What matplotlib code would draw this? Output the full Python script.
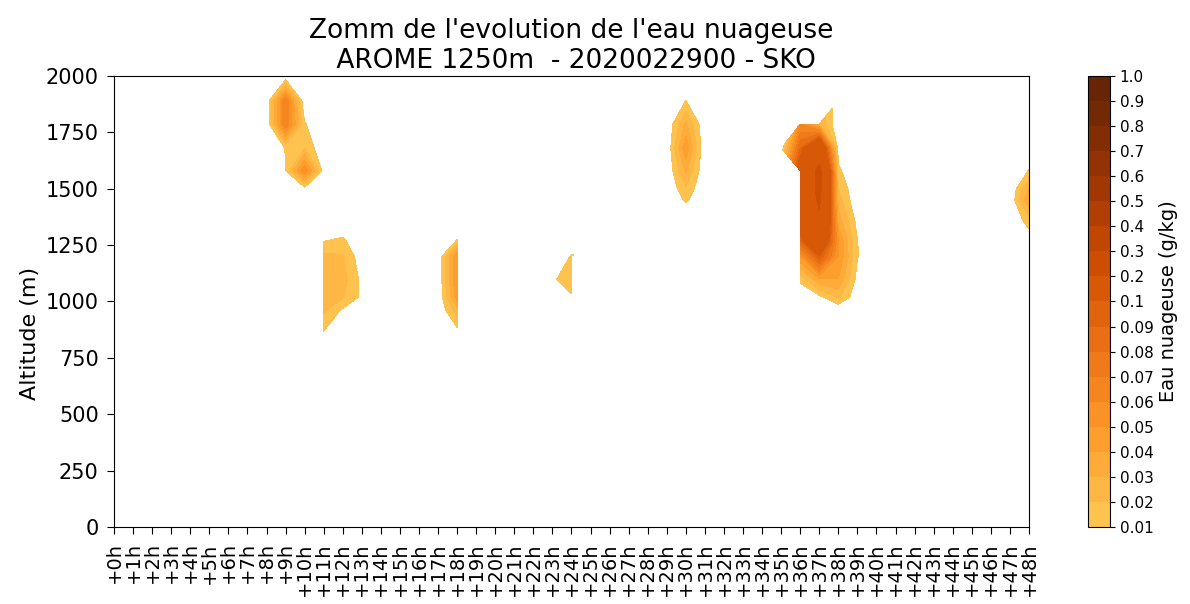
import numpy as np
import matplotlib
matplotlib.use("Agg")
import matplotlib.pyplot as plt

N = np.nan

# Forecast hours and model altitudes (m)
hours = list(range(49))
altitudes = [0, 300, 600, 860, 960, 1020, 1100, 1200, 1270, 1360, 1450,
             1500, 1580, 1680, 1787, 1890, 1990, 2100]

# Cloud water (g/kg) for hours with clouds (others are 0); NaN = missing
qc_09h = [0, 0, 0, 0, 0, 0, 0, 0, 0, 0, 0, 0, 0.0095, 0.0105, 0.07, 0.07, 0.006, 0]
qc_10h = [0, 0, 0, N, N, N, N, N, N, 0, 0, 0.006, 0.06, 0.02, 0.011, 0, 0, 0]
qc_11h = [0, 0, 0, 0.009, 0.022, 0.027, 0.029, 0.023, 0.0095, 0, 0, 0, 0.005, 0, 0, 0, 0, 0]
qc_12h = [0, 0, 0, 0, 0.008, 0.021, 0.024, 0.021, 0.012, 0, 0, 0, 0, 0, 0, 0, 0, 0]
qc_13h = [0, 0, 0, 0, 0, 0.008, 0.007, 0.003, 0, 0, 0, 0, 0, 0, 0, 0, 0, 0]
qc_18h = [0, 0, 0, 0.005, 0.025, 0.045, 0.05, 0.05, 0.0105, 0, 0, 0, 0, 0, 0, 0, 0, 0]
qc_19h = [0, 0, 0, N, N, N, N, N, N, 0, 0, 0, 0, 0, 0, 0, 0, 0]
qc_23h = [0, 0, 0, 0, 0, 0, 0.007, 0, 0, 0, 0, 0, 0, 0, 0, 0, 0, 0]
qc_24h = [0, 0, 0, 0, 0, 0.008, 0.02, 0.011, 0, 0, 0, 0, 0, 0, 0, 0, 0, 0]
qc_25h = [0, 0, 0, 0, 0, N, N, N, 0, 0, 0, 0, 0, 0, 0, 0, 0, 0]
qc_30h = [0, 0, 0, 0, 0, 0, 0, 0, 0, 0, 0.0117, 0.018, 0.032, 0.048, 0.032, 0.0102, 0, 0]
qc_35h = [0, 0, 0, 0, 0, N, N, N, N, N, N, N, N, 0, N, N, 0, 0]
qc_36h = [0, 0, 0, 0, 0, 0, 0.013, 0.05, 0.09, 0.12, 0.13, 0.13, 0.12, 0.09, 0.06, N, 0, 0]
qc_37h = [0, 0, 0, 0, 0, 0.007, 0.04, 0.1, 0.15, 0.19, 0.21, 0.22, 0.22, 0.15, 0.03, N, 0, 0]
qc_38h = [0, 0, 0, 0, 0, 0.022, 0.04, 0.05, 0.05, 0.035, 0.025, 0.02, 0.012, 0.005, 0, 0, 0, 0]
qc_39h = [0, 0, 0, 0, 0, 0.002, 0.006, 0.0105, 0.0102, 0.006, 0, 0, 0, 0, 0, 0, 0, 0]
qc_48h = [0, 0, 0, 0, 0, 0, 0, 0, 0.003, 0.015, 0.04, 0.03, 0.0105, 0, 0, 0, 0, 0]

columns = {9: qc_09h, 10: qc_10h, 11: qc_11h, 12: qc_12h, 13: qc_13h,
           18: qc_18h, 19: qc_19h, 23: qc_23h, 24: qc_24h, 25: qc_25h,
           30: qc_30h, 35: qc_35h, 36: qc_36h, 37: qc_37h, 38: qc_38h,
           39: qc_39h, 48: qc_48h}

levels = [0.01, 0.02, 0.03, 0.04, 0.05, 0.06, 0.07, 0.08, 0.09, 0.1,
          0.2, 0.3, 0.4, 0.5, 0.6, 0.7, 0.8, 0.9, 1.0]
level_labels = ["0.01", "0.02", "0.03", "0.04", "0.05", "0.06", "0.07", "0.08",
                "0.09", "0.1", "0.2", "0.3", "0.4", "0.5", "0.6", "0.7", "0.8",
                "0.9", "1.0"]
hour_labels = ["+%dh" % h for h in hours]
alt_ticks = [0, 250, 500, 750, 1000, 1250, 1500, 1750, 2000]

qc = np.zeros((len(altitudes), len(hours)))
for h, col in columns.items():
    qc[:, h] = col
qc = np.ma.masked_invalid(qc)

base = plt.get_cmap("YlOrBr")
colors = [base(x) for x in np.linspace(0.375, 1.0, len(levels) - 1)]

fig = plt.figure(figsize=(11.9, 6.04), dpi=100)
ax = fig.add_axes([0.0958, 0.1275, 0.7689, 0.7467])
cax = fig.add_axes([0.9143, 0.1275, 0.0185, 0.7467])

cs = ax.contourf(hours, altitudes, qc, levels=levels, colors=colors)
ax.set_xlim(0, 48)
ax.set_ylim(0, 2000)
ax.set_xticks(hours)
ax.set_xticklabels(hour_labels, rotation=90, fontsize=14)
ax.tick_params(axis="x", length=5, pad=6)
ax.set_yticks(alt_ticks)
ax.tick_params(axis="y", labelsize=15, length=5, pad=6)
ax.set_ylabel("Altitude (m)", fontsize=16)
ax.yaxis.label.set_y(0.43)
ax.set_title("Zomm de l'evolution de l'eau nuageuse\n AROME 1250m  - 2020022900 - SKO",
             fontsize=19)

cb = fig.colorbar(cs, cax=cax)
cb.set_ticks(levels)
cb.set_ticklabels(level_labels)
cb.ax.tick_params(labelsize=11)
cb.set_label("Eau nuageuse (g/kg)", fontsize=14)

fig.savefig("out.png", dpi=100)
